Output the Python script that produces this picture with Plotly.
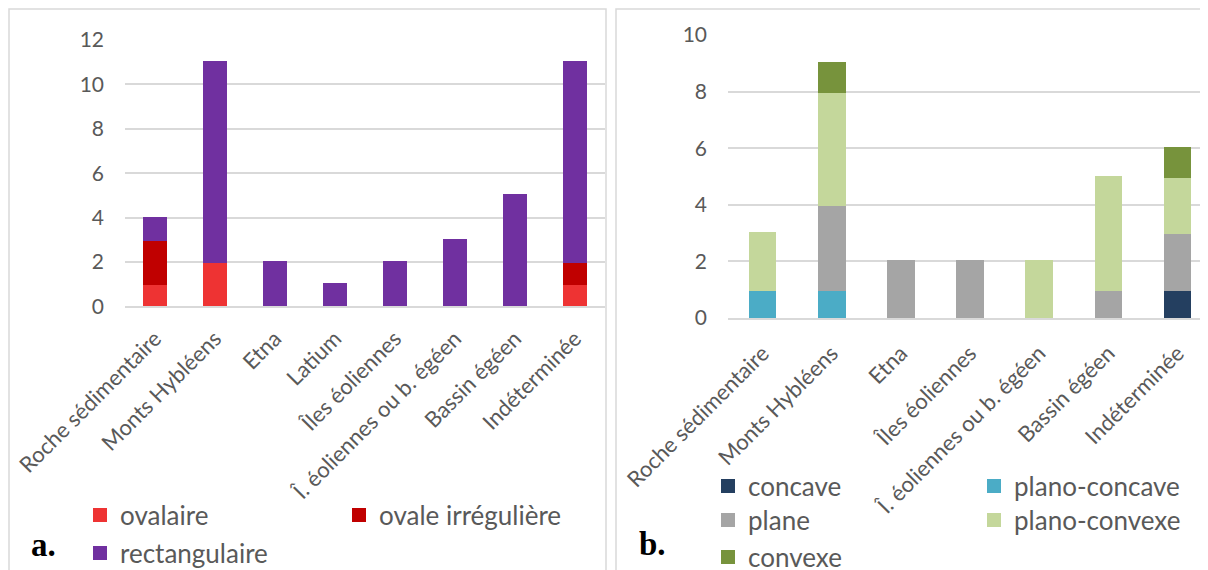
import plotly.graph_objects as go

# ---------------- data ----------------
cats_a = ["Roche sédimentaire", "Monts Hybléens", "Etna", "Latium", "Îles éoliennes",
          "Î. éoliennes ou b. égéen", "Bassin égéen", "Indéterminée"]
ovalaire = [1, 2, 0, 0, 0, 0, 0, 1]
ovale_irreguliere = [2, 0, 0, 0, 0, 0, 0, 1]
rectangulaire = [1, 9, 2, 1, 2, 3, 5, 9]

cats_b = ["Roche sédimentaire", "Monts Hybléens", "Etna", "Îles éoliennes",
          "Î. éoliennes ou b. égéen", "Bassin égéen", "Indéterminée"]
concave = [0, 0, 0, 0, 0, 0, 1]
plano_concave = [1, 1, 0, 0, 0, 0, 0]
plane = [0, 3, 2, 2, 0, 1, 2]
plano_convexe = [2, 4, 0, 0, 2, 4, 2]
convexe = [0, 1, 0, 0, 0, 0, 1]

ticks_a = [0, 2, 4, 6, 8, 10, 12]
ticks_b = [0, 2, 4, 6, 8, 10]

# ---------------- styling ----------------
OFF = 8                     # page body margin
W, H = 1208 - OFF, 570 - OFF
FONT = "Lato"
TXT = "#595959"
GRID = "#D9D9D9"
YTICK_SIZE = 21
XTICK_SIZE = 22
LEG_SIZE = 26


def px(x):  # page pixel -> paper fraction
    return (x - OFF) / W


def py(y):
    return 1 - (y - OFF) / H


def nz(vals):
    return [v if v else None for v in vals]


fig = go.Figure()

series_a = [("ovalaire", ovalaire, "#EE3333", "legend"),
            ("ovale irrégulière", ovale_irreguliere, "#C00000", "legend"),
            ("rectangulaire", rectangulaire, "#7030A0", "legend2")]
for name, vals, col, leg in series_a:
    fig.add_trace(go.Bar(x=cats_a, y=nz(vals), name=name,
                         marker=dict(color=col, line=dict(width=2, color=col)),
                         xaxis="x", yaxis="y", legend=leg))

series_b = [("concave", concave, "#243F60", "legend3"),
            ("plano-concave", plano_concave, "#4BACC6", "legend3"),
            ("plane", plane, "#A5A5A5", "legend4"),
            ("plano-convexe", plano_convexe, "#C4D79B", "legend4"),
            ("convexe", convexe, "#77933C", "legend5")]
for name, vals, col, leg in series_b:
    fig.add_trace(go.Bar(x=cats_b, y=nz(vals), name=name,
                         marker=dict(color=col, line=dict(width=2, color=col)),
                         xaxis="x2", yaxis="y2", legend=leg))

xcommon = dict(type="category", tickangle=-45, showgrid=False, showline=True,
               linecolor=GRID, linewidth=1.5, ticks="", automargin=False,
               tickfont=dict(family=FONT, size=XTICK_SIZE, color=TXT), fixedrange=True)
ycommon = dict(showgrid=True, gridcolor=GRID, gridwidth=1.5, zeroline=False, showline=False,
               ticks="", automargin=False, ticklabelstandoff=20,
               tickfont=dict(family=FONT, size=YTICK_SIZE, color=TXT), fixedrange=True)

legcommon = dict(orientation="h", font=dict(family=FONT, size=LEG_SIZE, color=TXT),
                 bgcolor="rgba(0,0,0,0)", borderwidth=0, xanchor="left", yanchor="middle",
                 entrywidthmode="pixels", traceorder="normal")

fig.update_layout(
    width=W, height=H,
    margin=dict(l=0, r=0, t=0, b=0, pad=0, autoexpand=False),
    template="none",
    paper_bgcolor="white", plot_bgcolor="white",
    barmode="stack", bargap=0.63,
    xaxis=dict(xcommon, domain=[px(125), px(605)], range=[-0.5, 7.5], anchor="y",
               ticklabelstandoff=9),
    yaxis=dict(ycommon, domain=[py(306.4), py(40)], range=[0, 12], tickvals=ticks_a, anchor="x"),
    xaxis2=dict(xcommon, domain=[px(728), 1], range=[-0.5, 6.44], anchor="y2",
                ticklabelstandoff=12),
    yaxis2=dict(ycommon, domain=[py(318), py(35)], range=[0, 10], tickvals=ticks_b, anchor="x2"),
    legend=dict(legcommon, x=px(80), y=py(515), entrywidth=214),
    legend2=dict(legcommon, x=px(80), y=py(553), entrywidth=214),
    legend3=dict(legcommon, x=px(708), y=py(486), entrywidth=221),
    legend4=dict(legcommon, x=px(708), y=py(520), entrywidth=221),
    legend5=dict(legcommon, x=px(708), y=py(557), entrywidth=221),
    showlegend=True,
)

# panel borders
for x0, x1 in [(9, 606), (616, 1240)]:
    fig.add_shape(type="rect", xref="paper", yref="paper",
                  x0=px(x0), x1=px(x1), y0=py(620), y1=py(9),
                  line=dict(color=GRID, width=1.5), fillcolor="rgba(0,0,0,0)", layer="below")

# panel letters
for txt, x, y in [("a.", 29, 545), ("b.", 637, 544)]:
    fig.add_annotation(text=f"<b>{txt}</b>", xref="paper", yref="paper", x=px(x), y=py(y),
                       xanchor="left", yanchor="middle", showarrow=False,
                       font=dict(family="Liberation Serif", size=33, color="black"))

fig.write_html("out.html")
